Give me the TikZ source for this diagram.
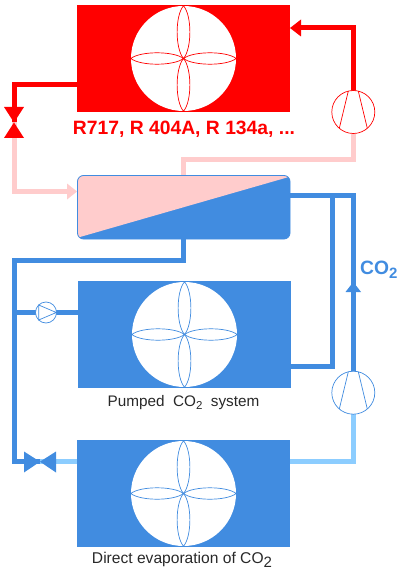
\documentclass[tikz,border=0pt]{standalone}
\usepackage{fontspec}
\setmainfont{Liberation Sans}
\usetikzlibrary{calc}
\definecolor{cred}{RGB}{255,0,0}
\definecolor{cpink}{RGB}{255,204,204}
\definecolor{cblue}{RGB}{65,140,224}
\definecolor{clight}{RGB}{140,205,255}
\definecolor{ctxt}{RGB}{40,40,40}
\tikzset{
  unitbox/.style={draw=none,minimum width=213pt,minimum height=107pt,inner sep=0pt,outer sep=0pt},
  disc/.style={circle,fill=white,draw=none,minimum size=105pt,inner sep=0pt},
  ring/.style={circle,fill=white,minimum size=43pt,inner sep=0pt,line width=0.7pt},
  pumpring/.style={circle,fill=white,minimum size=21pt,inner sep=0pt,line width=0.7pt},
  pipe/.style={line width=5pt,line join=miter},
  petal/.style={line width=0.7pt},
  lab/.style={inner sep=0pt,text=ctxt,font=\fontsize{15.3pt}{17pt}\selectfont},
  biglab/.style={inner sep=0pt,font=\bfseries\fontsize{19.3pt}{21pt}\selectfont},
}
% fan: disc with four petals, at #1 in colour #2, named #3
\newcommand{\fanat}[3]{%
  \node[disc] (#3) at (#1) {};
  \draw[petal,#2] (#3.center) .. controls ($(#3.center)+(-8.5,-10)$) and ($(#3.center)+(-8.5,-43)$) .. (#3.north)
    .. controls ($(#3.center)+(8.5,-43)$) and ($(#3.center)+(8.5,-10)$) .. cycle;
  \draw[petal,#2] (#3.center) .. controls ($(#3.center)+(-8.5,10)$) and ($(#3.center)+(-8.5,43)$) .. (#3.south)
    .. controls ($(#3.center)+(8.5,43)$) and ($(#3.center)+(8.5,10)$) .. cycle;
  \draw[petal,#2] (#3.center) .. controls ($(#3.center)+(-10,-7.6)$) and ($(#3.center)+(-43,-7.6)$) .. (#3.west)
    .. controls ($(#3.center)+(-43,7.6)$) and ($(#3.center)+(-10,7.6)$) .. cycle;
  \draw[petal,#2] (#3.center) .. controls ($(#3.center)+(10,-7.6)$) and ($(#3.center)+(43,-7.6)$) .. (#3.east)
    .. controls ($(#3.center)+(43,7.6)$) and ($(#3.center)+(10,7.6)$) .. cycle;
}
% compressor glyph
\newcommand{\compat}[3]{%
  \node[ring,draw=#2] (#3) at (#1) {};
  \draw[#2,line width=0.7pt] ($(#3.center)+(-5,-20.9)$) -- ($(#3.center)+(-14,16.3)$);
  \draw[#2,line width=0.7pt] ($(#3.center)+(5,-20.9)$) -- ($(#3.center)+(14,16.3)$);
}
\begin{document}
\begin{tikzpicture}[x=1pt,y=-1pt]
\useasboundingbox (0,0) rectangle (400,580);
\node[unitbox,fill=cred]  (cond) at (183.5,58.5) {};
\node[unitbox,fill=cblue] (pumped) at (184.5,334.5) {};
\node[unitbox,fill=cblue] (direct) at (183.5,493.5) {};
\coordinate (rvalve) at (14,122.5);
\coordinate (bvalve) at (40,461.7);
\coordinate (pumpc) at (46,312.5);
\coordinate (c1) at (353.3,112);
\coordinate (c2) at (353.3,392.7);
\coordinate (j1) at (14,85);
\coordinate (j2) at (353.3,28);
\coordinate (j3) at (14,191.5);
% pipes behind
\draw[pipe,cred] (cond.west |- j1) -- (j1) -- (rvalve);
\draw[pipe,cpink] (rvalve) -- (j3) -- (68,191.5);
\fill[cpink] (77,191.5) -- (67,183.5) -- (67,199.5) -- cycle;
\draw[pipe,cred] (c1) -- (j2) -- (300,28);
\fill[cred] (290,28) -- (301,19.5) -- (301,36.5) -- cycle;
\draw[pipe,cpink] (c1) -- (353.3,160) -- (183,160) -- (183,176);
\draw[pipe,cblue] (289,195) -- (353.3,195) -- (353.3,285);
\draw[pipe,cblue] (332,195) -- (332,366.7) -- (290,366.7);
\fill[cblue] (353.3,282) -- (345.5,292) -- (361,292) -- cycle;
\draw[pipe,cblue] (c2) -- (353.3,290);
\draw[pipe,cblue] (183,238) -- (183,260) -- (14,260) -- (14,461.7) -- (bvalve);
\draw[pipe,cblue] (14,312.5) -- (pumped.west |- pumpc);
\draw[pipe,clight] (direct.west |- bvalve) -- (bvalve);
\draw[pipe,clight] (direct.east |- bvalve) -- (353.3,461.7) -- (c2);
% receiver body
\fill[cblue,rounded corners=6pt] (77.5,175.5) rectangle (290,239);
\begin{scope}
\clip[rounded corners=6pt] (77.5,175.5) rectangle (290,239);
\fill[cpink] (77.5,175.5) -- (290,175.5) -- (287,177.5) -- (80,237) -- (77.5,239) -- cycle;
\end{scope}
\draw[cblue,line width=0.8pt,rounded corners=6pt] (77.5,175.5) rectangle (290,239);
% valves
\fill[cred] (rvalve) -- (4,107) -- (24,107) -- cycle;
\fill[cred] (rvalve) -- (4,138) -- (24,138) -- cycle;
\fill[cblue] (bvalve) -- (24,451.5) -- (24,472.5) -- cycle;
\fill[cblue] (bvalve) -- (56,451.5) -- (56,472.5) -- cycle;
% fans
\fanat{cond.center}{cred}{f1}
\fanat{pumped.center}{cblue}{f2}
\fanat{direct.center}{cblue}{f3}
% compressors
\compat{c1}{cred}{k1}
\compat{c2}{cblue}{k2}
% pump
\node[pumpring,draw=cblue] (pump) at (pumpc) {};
\draw[cblue,line width=0.7pt] ($(pump.center)+(-7.3,-7.5)$) -- ($(pump.center)+(10.3,0)$) -- ($(pump.center)+(-7.3,7.5)$) -- cycle;
% labels
\node[biglab,text=cred] (t1) at (184,129) {R717, R 404A, R 134a, ...};
\node[biglab,text=cblue,anchor=west] (t2) at (360,270) {CO\raisebox{-3.5pt}{\fontsize{15pt}{16pt}\selectfont 2}};
\node[lab] (t3) at (183.5,403) {Pumped\; CO\raisebox{-2.5pt}{\fontsize{11.5pt}{13pt}\selectfont 2}\; system};
\node[lab,font=\fontsize{15.6pt}{17pt}\selectfont] (t4) at (182,560) {Direct evaporation of CO\raisebox{-3.5pt}{\fontsize{15pt}{17pt}\selectfont 2}};
\end{tikzpicture}
\end{document}
